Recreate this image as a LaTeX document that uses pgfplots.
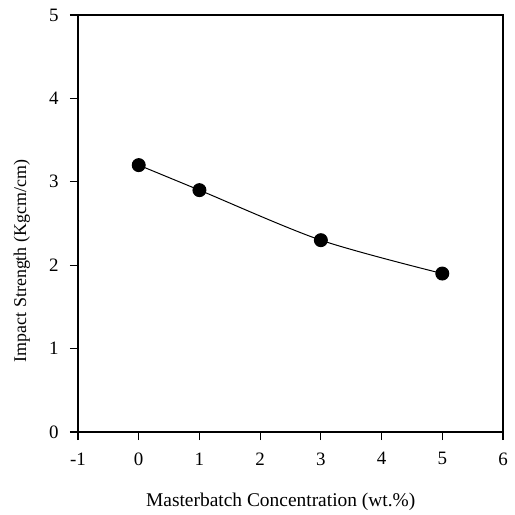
\documentclass[border=0pt]{standalone}
\usepackage{fontspec}
\setmainfont{Liberation Serif}
\usepackage{pgfplots}
\pgfplotsset{compat=1.18}
\begin{document}
\begin{tikzpicture}
\begin{axis}[
  name=ax,
  scale only axis,
  width=425bp, height=417bp,
  xmin=-1, xmax=6, ymin=0, ymax=5,
  xtick={-1,0,...,6}, ytick={0,1,...,5},
  tick align=outside, tick pos=left,
  major tick length=8bp,
  axis line style={line width=1.2pt},
  every tick/.style={line width=1.2pt, black},
  /pgf/number format/assume math mode=true,
  every tick label/.append style={font=\fontsize{19}{22}\selectfont},
  xticklabel style={yshift=-9bp},
  yticklabel style={xshift=-8bp},
  xlabel={Masterbatch Concentration (wt.\%)},
  ylabel={Impact Strength (Kgcm/cm)},
  xlabel style={font=\fontsize{19.5}{22}\selectfont, at={(axis description cs:0.477,-0.168)}, anchor=center},
  ylabel style={font=\fontsize{18}{21}\selectfont, at={(axis description cs:-0.132,0.41)}, anchor=center},
]
\addplot[black, line width=1pt, smooth, mark=*, mark size=6.5pt, mark options={fill=black}]
  coordinates {(0,3.2) (1,2.9) (3,2.3) (5,1.9)};
\end{axis}
\path (ax.south west) ++(-78bp,-83bp) (ax.north east) ++(12bp,15bp);
\end{tikzpicture}
\end{document}
